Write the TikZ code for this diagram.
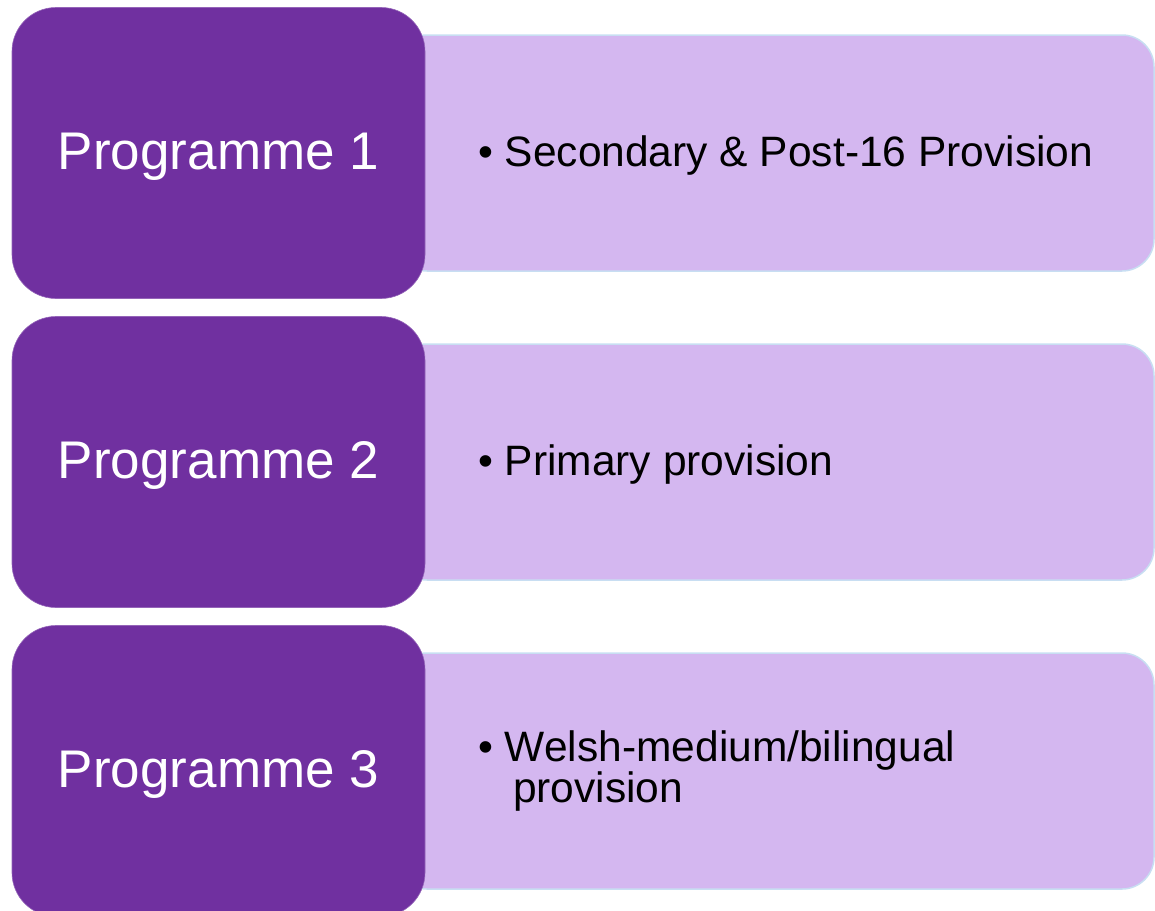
\documentclass[tikz,border=0pt]{standalone}
\usepackage{fontspec}
\setmainfont{Liberation Sans}
\usetikzlibrary{positioning}

\definecolor{progpurple}{HTML}{7030A0}
\definecolor{desclilac}{HTML}{D4B7F0}
\definecolor{descedge}{HTML}{C8DEF2}

\tikzset{
	progbox/.style={rectangle, rounded corners=44pt, fill=progpurple, draw=progpurple!75!white, line width=0.6pt,
		minimum width=413pt, minimum height=291pt, inner sep=0pt, outer sep=0pt,
		text=white, text height=44pt, text depth=11pt, font=\fontsize{53pt}{60pt}\selectfont},
	descbox/.style={rectangle, rounded corners=32pt, fill=desclilac, draw=descedge, line width=1.5pt,
		minimum width=759pt, minimum height=236pt, inner sep=0pt, outer sep=0pt},
	desctext/.style={anchor=west, align=left, inner sep=0pt, font=\fontsize{42.5pt}{41pt}\selectfont}
}

\begin{document}
\begin{tikzpicture}[x=1pt, y=-1pt]
			\def\W{1155};
			\def\H{910};
			\def\indent{83pt};

			\useasboundingbox (0,0) rectangle (\W,\H);

			\begin{scope}
				\foreach \i in {1,2,3}
				{
					\node[descbox] (desc\i) at (774.5,\i*309-156) {};
				}
			\end{scope}

			\begin{scope}
				\foreach \i in {1,2,3}
				{
					\node[progbox, left=-30pt of desc\i] (prog\i) {Programme \i};
				}
			\end{scope}

			\begin{scope}
				\node[desctext] (item1) at ([xshift=\indent, yshift=-3pt]desc1.west) {• Secondary \& Post-16 Provision};
				\node[desctext] (item2) at ([xshift=\indent, yshift=-3pt]desc2.west) {• Primary provision};
				\node[desctext] (item3) at ([xshift=\indent]desc3.west) {• Welsh-medium/bilingual\\\hspace*{35pt}provision};
			\end{scope}
		\end{tikzpicture}
\end{document}
